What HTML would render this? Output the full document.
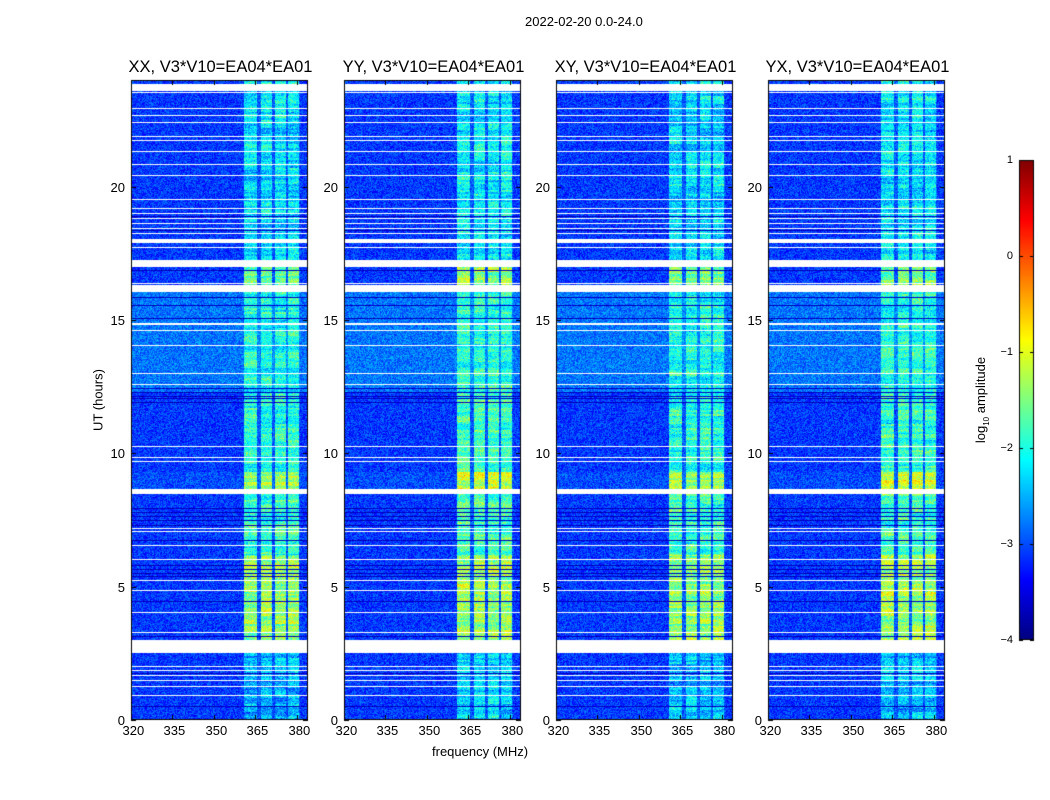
<!DOCTYPE html>
<html><head><meta charset="utf-8">
<style>
body{margin:0;background:#fff;width:1050px;height:800px;overflow:hidden;position:relative;font-family:"Liberation Sans",sans-serif;}
.t{position:absolute;font-size:13px;color:#000;white-space:nowrap;}
.ttl{position:absolute;font-size:16.5px;color:#000;white-space:nowrap;transform:translateX(-50%);}
canvas{position:absolute;left:0;top:0;}
</style></head>
<body>
<canvas id="c" width="1050" height="800"></canvas>
<div class="t" style="left:525px;top:14px">2022-02-20 0.0-24.0</div>
<div class="t" style="left:432px;top:744px">frequency (MHz)</div>
<div class="t" style="left:98px;top:400px;transform:translate(-50%,-50%) rotate(-90deg)">UT (hours)</div>
<div class="t" style="left:982px;top:400px;transform:translate(-50%,-50%) rotate(-90deg)">log<sub style="font-size:8px">10</sub> amplitude</div>
<div id="labels"></div>
<script>
// ---- data ----
const panelTitles = ["XX, V3*V10=EA04*EA01","YY, V3*V10=EA04*EA01","XY, V3*V10=EA04*EA01","YX, V3*V10=EA04*EA01"];
const panelBandGain = [0, 0.1, 0, 0.05];
const xTicks = [320,335,350,365,380];
const yTicks = [0,5,10,15,20];
const cbTicks = [1,0,-1,-2,-3,-4];
// time segments: start hour, end hour, background log amp, RFI band log amp
const segStart = [0, 3.0, 6.2, 8.65, 9.3, 12.3, 16.3, 17.25];
const segEnd   = [2.5, 6.2, 8.5, 9.3, 12.3, 16.05, 17.0, 24];
const segBg    = [-3.1, -3.1, -3.1, -3.0, -3.1, -2.8, -3.1, -3.1];
const segBand  = [-2.45, -1.4, -1.85, -1.3, -1.95, -2.0, -1.55, -2.25];
// RFI band channel ranges (MHz)
const bandLo = [361, 366.9, 371.9, 376.9];
const bandHi = [365.6, 370.9, 375.9, 380.6];
// flagged (white) blocks in hours
const flagLo = [23.58, 17.9, 17.0, 16.05, 14.8, 8.47, 2.5];
const flagHi = [23.85, 18.05, 17.25, 16.3, 14.9, 8.65, 3.0];
// thin flagged rows (hours)
const whiteRows = [23.55,22.95,22.68,22.42,21.9,21.75,21.33,20.85,20.43,19.53,19.2,19.0,18.82,18.64,18.45,18.26,17.74,16.39,14.62,14.06,13.01,12.6,10.27,9.86,9.71,7.2,7.09,6.56,6.04,5.25,4.87,4.05,3.3,2.02,1.87,1.69,1.5,1.27,0.94];
// low-amplitude (dark) rows (hours)
const darkRows = [18.9,18.37,16.87,15.86,15.56,15.07,12.45,12.3,12.15,12.07,11.92,7.95,7.8,7.65,7.5,7.31,6.75,5.81,5.66,5.51,5.4,4.46,3.15,3.0,1.76,0.52];

// ---- layout ----
const panelX = [131,344,556,768], PW = 177, PT = 80, PB = 720;
const fMin = 320, fMax = 384, hMin = 0, hMax = 24;
function xScale(p,f){return panelX[p] + (f-fMin)/(fMax-fMin)*PW;}
function yScale(h){return PB - (h-hMin)/(hMax-hMin)*(PB-PT);}
const cbX=1019, cbW=15, cbT=160, cbB=640, vMin=-4, vMax=1;
function cScale(v){return cbB-(v-vMin)/(vMax-vMin)*(cbB-cbT);}

function jet(v){
  let x=(v-vMin)/(vMax-vMin); x=Math.max(0,Math.min(1,x));
  const cl=a=>Math.max(0,Math.min(1,a));
  return [cl(1.5-Math.abs(4*x-3))*255, cl(1.5-Math.abs(4*x-2))*255, cl(1.5-Math.abs(4*x-1))*255];
}
function hash(a,b,c){let h=(a*374761393+b*668265263+c*2147483647)|0;h=(h^(h>>>13))*1274126177|0;h=h^(h>>>16);return ((h>>>0)%10000)/10000;}

const cv=document.getElementById('c'), ctx=cv.getContext('2d');
ctx.fillStyle='#fff';ctx.fillRect(0,0,1050,800);
const H=PB-PT;
for(let p=0;p<4;p++){
  const img=ctx.createImageData(PW,H);
  for(let y=0;y<H;y++){
    const h=hMax-(y+0.5)/H*(hMax-hMin);
    let si=-1;
    for(let i=0;i<segStart.length;i++) if(h>=segStart[i]&&h<segEnd[i]) si=i;
    let flagged = si<0;
    for(let i=0;i<flagLo.length;i++) if(h>=flagLo[i]&&h<flagHi[i]) flagged=true;
    for(const w of whiteRows) if(Math.abs(yScale(w)-PT-y)<0.6) flagged=true;
    let dark=false;
    for(const d of darkRows) if(Math.abs(yScale(d)-PT-y)<0.6) dark=true;
    const rowN=(hash(y>>1,p,7)-0.5)*0.5;
    for(let x=0;x<PW;x++){
      const k=(y*PW+x)*4;
      if(flagged){img.data[k]=img.data[k+1]=img.data[k+2]=255;img.data[k+3]=255;continue;}
      const f=fMin+(x+0.5)/PW*(fMax-fMin);
      let v=segBg[si];
      let bi=-1;
      for(let b=0;b<bandLo.length;b++) if(f>=bandLo[b]&&f<bandHi[b]) bi=b;
      if(bi>=0) v=segBand[si]+panelBandGain[p]+rowN+(hash(bi,y>>3,p+3)-0.5)*0.4+(hash(x,y,p+5)-0.5)*0.5;
      else if(f>=361&&f<381) v=segBg[si]+0.15;
      v+=(hash(x,y,p+1)-0.5)*0.7;
      if(dark) v=-3.7+(hash(x,y,9)-0.5)*0.4;
      const c=jet(v);
      img.data[k]=c[0];img.data[k+1]=c[1];img.data[k+2]=c[2];img.data[k+3]=255;
    }
  }
  ctx.putImageData(img,panelX[p],PT);
}
// axes frames & ticks
const lab=document.getElementById('labels');
ctx.strokeStyle='#000';ctx.lineWidth=1;
for(let p=0;p<4;p++){
  ctx.strokeRect(panelX[p]+0.5,PT+0.5,PW-1,H-1);
  ctx.beginPath();
  for(const t of xTicks){const x=Math.round(xScale(p,t))+0.5;ctx.moveTo(x,PB);ctx.lineTo(x,PB-5);ctx.moveTo(x,PT);ctx.lineTo(x,PT+5);
    const d=document.createElement('div');d.className='t';d.textContent=t;d.style.left=(x-9)+'px';d.style.top=(PB+3)+'px';
    
    lab.appendChild(d);}
  for(const t of yTicks){const y=Math.round(yScale(t))+0.5;ctx.moveTo(panelX[p],y);ctx.lineTo(panelX[p]+5,y);ctx.moveTo(panelX[p]+PW,y);ctx.lineTo(panelX[p]+PW-5,y);
    const d=document.createElement('div');d.className='t';d.textContent=t;d.style.left=(panelX[p]-6)+'px';d.style.top=(y-8)+'px';d.style.transform='translateX(-100%)';
    
    lab.appendChild(d);}
  ctx.stroke();
  const tt=document.createElement('div');tt.className='ttl';tt.textContent=panelTitles[p];tt.style.left=(panelX[p]+PW/2+1)+'px';tt.style.top='58px';
  
  lab.appendChild(tt);
}
// colorbar
for(let y=cbT;y<cbB;y++){const v=vMax-(y-cbT+0.5)/(cbB-cbT)*(vMax-vMin);const c=jet(v);ctx.fillStyle=`rgb(${c[0]|0},${c[1]|0},${c[2]|0})`;ctx.fillRect(cbX,y,cbW,1);}
ctx.strokeRect(cbX+0.5,cbT+0.5,cbW-1,cbB-cbT-1);
ctx.beginPath();
for(const t of cbTicks){const y=Math.round(cScale(t))+0.5;ctx.moveTo(cbX,y);ctx.lineTo(cbX+4,y);ctx.moveTo(cbX+cbW,y);ctx.lineTo(cbX+cbW-4,y);
  const d=document.createElement('div');d.className='t';d.style.fontSize='11px';d.textContent=t<0?'\u2212'+(-t):t;d.style.left='1013px';d.style.top=(y-7)+'px';d.style.transform='translateX(-100%)';
  
  lab.appendChild(d);}
ctx.stroke();
</script>
</body></html>
